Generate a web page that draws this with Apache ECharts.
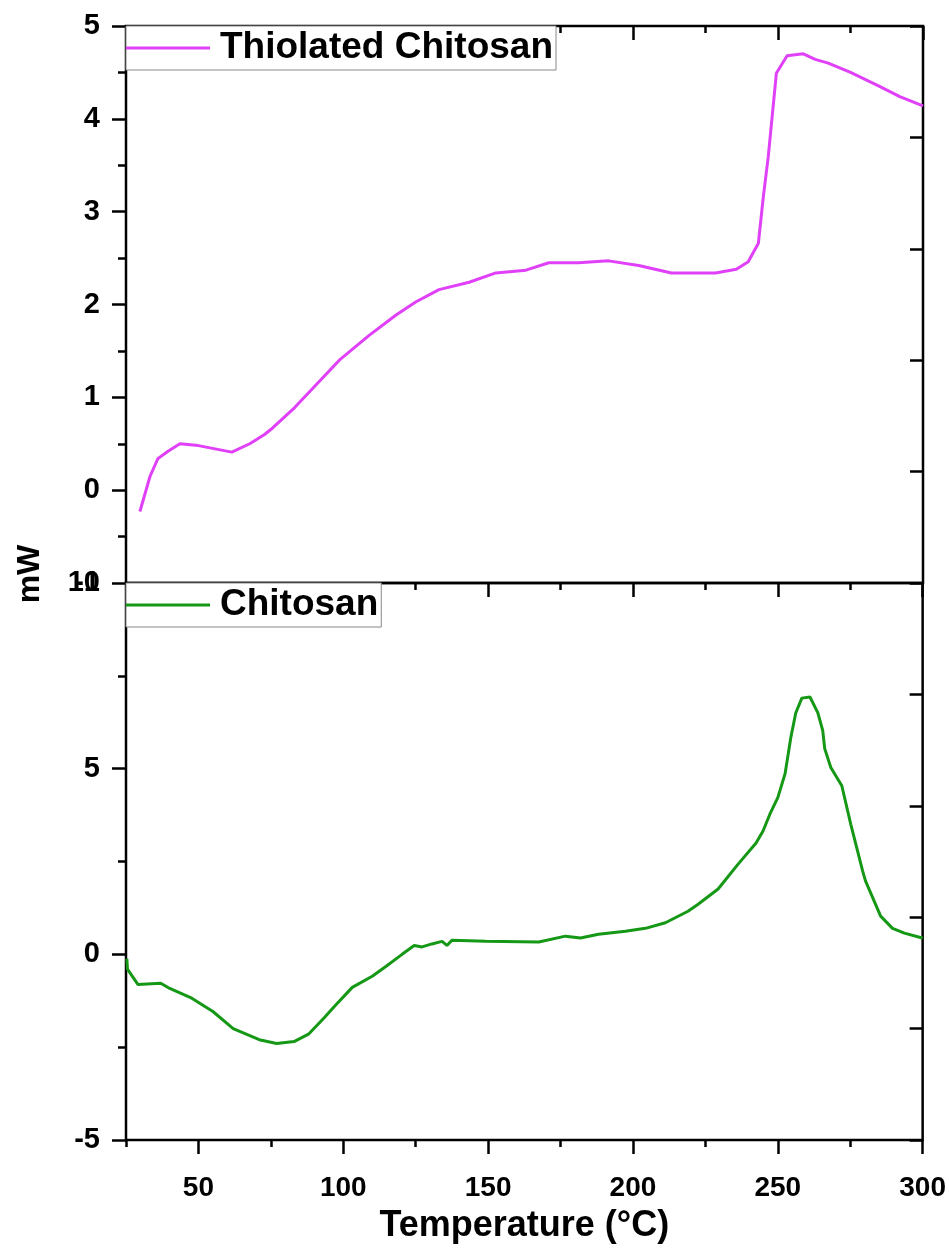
<!DOCTYPE html>
<html>
<head>
<meta charset="utf-8">
<script src="https://cdn.jsdelivr.net/npm/echarts@6/dist/echarts.min.js"></script>
<style>
  html, body { margin: 0; padding: 0; background: #fff; }
  #chart { width: 949px; height: 1257px; }
</style>
</head>
<body>
<div id="chart"></div>
<script>
// Thiolated chitosan DSC curve (top panel)
var thiolTemp = [29.8, 33.3, 36, 39.5, 43.6, 50, 61.5, 67.7, 72.8, 75.6, 83.2, 98.6, 109, 118.3, 125.1, 133, 143.4, 152.6, 163, 170.9, 181.2, 191.5, 201.9, 213.2, 228.4, 235.6, 239.7, 243.2, 244.9, 246.6, 249.4, 253.1, 258.7, 262.8, 267.3, 275, 285, 292, 300];
var thiolMW = [-0.23, 0.15, 0.34, 0.42, 0.50, 0.48, 0.41, 0.50, 0.60, 0.67, 0.89, 1.40, 1.67, 1.89, 2.03, 2.16, 2.24, 2.34, 2.37, 2.45, 2.45, 2.47, 2.42, 2.34, 2.34, 2.38, 2.46, 2.66, 3.16, 3.59, 4.49, 4.68, 4.70, 4.64, 4.60, 4.50, 4.35, 4.24, 4.14];

// Chitosan DSC curve (bottom panel)
var chitTemp = [25.3, 25.5, 29.1, 37, 40.1, 47.7, 55, 62, 71, 77, 83, 88, 93.5, 97, 103.1, 110, 114.8, 120.3, 124.5, 127.2, 130.6, 134.1, 135.8, 137.5, 149.2, 167.5, 176.7, 181.9, 188.1, 197.4, 204.3, 211.2, 219, 222.5, 229.4, 236.3, 242.5, 244.9, 247.3, 250, 252.5, 254.5, 256.2, 258.3, 261.1, 263.8, 265.5, 266.2, 268.3, 272.1, 275.2, 279.3, 280.3, 285.5, 289.6, 293.7, 298.9, 300];
var chitMW = [-0.12, -0.4, -0.81, -0.78, -0.92, -1.18, -1.54, -2.0, -2.3, -2.4, -2.35, -2.15, -1.7, -1.4, -0.89, -0.59, -0.32, 0, 0.24, 0.2, 0.28, 0.35, 0.24, 0.38, 0.35, 0.33, 0.49, 0.44, 0.54, 0.62, 0.70, 0.85, 1.16, 1.35, 1.76, 2.43, 3.0, 3.32, 3.78, 4.22, 4.86, 5.84, 6.5, 6.9, 6.93, 6.51, 6.03, 5.54, 5.03, 4.54, 3.5, 2.24, 1.97, 1.03, 0.70, 0.57, 0.46, 0.44];

var tempMin = 25, tempMax = 300;
var topRange = [-1, 5];
var bottomRange = [-5, 10];

function pairs(xs, ys) {
  return xs.map(function (x, i) { return [x, ys[i]]; });
}

var FONT = 'Arial, "Liberation Sans", sans-serif';

// x axis: major ticks (auto, every 50) or minor ticks (every 25)
function xAxis(grid, pos, kind, inside, showLabel) {
  var minor = kind === 'minor';
  var ax = {
    type: 'value', gridIndex: grid, position: pos,
    min: tempMin, max: tempMax,
    axisLine: { show: false, onZero: false },
    splitLine: { show: false },
    axisTick: { show: true, inside: inside, length: minor ? 7 : 14, lineStyle: { color: '#000', width: 2.5 } },
    axisLabel: { show: false }
  };
  if (minor) ax.interval = 25;
  if (showLabel) {
    ax.axisLabel = { show: true, showMinLabel: false, margin: 34, color: '#000', fontFamily: FONT, fontWeight: 'bold', fontSize: 28 };
    ax.name = 'Temperature (°C)';
    ax.nameLocation = 'middle';
    ax.nameGap = 68;
    ax.nameTextStyle = { color: '#000', fontFamily: FONT, fontWeight: 'bold', fontSize: 36 };
  }
  return ax;
}

function leftY(grid, range, step) {
  return {
    type: 'value', gridIndex: grid, position: 'left',
    min: range[0], max: range[1], interval: step,
    axisLine: { show: false, onZero: false },
    splitLine: { show: false },
    axisTick: { show: true, inside: false, length: 14, lineStyle: { color: '#000', width: 2.5 } },
    minorTick: { show: true, splitNumber: 2, length: 8, lineStyle: { color: '#000', width: 2.5 } },
    axisLabel: { margin: 26, color: '#000', fontFamily: FONT, fontWeight: 'bold', fontSize: 29 }
  };
}

function rightY(grid) {
  return {
    type: 'value', gridIndex: grid, position: 'right',
    min: 0, max: 5, interval: 1,
    axisLine: { show: false, onZero: false },
    splitLine: { show: false },
    axisTick: { show: true, inside: true, length: 13, lineStyle: { color: '#000', width: 2.5 } },
    axisLabel: { show: false }
  };
}

function legendBox(name, top) {
  return {
    data: [name],
    left: 126, top: top,
    orient: 'horizontal',
    icon: 'rect', itemWidth: 84, itemHeight: 3,
    backgroundColor: '#fff',
    borderColor: '#888', borderWidth: 1, borderRadius: 0,
    padding: [2, 3, 2, 0],
    selectedMode: false,
    textStyle: { color: '#000', fontFamily: FONT, fontWeight: 'bold', fontSize: 37, lineHeight: 40, padding: [0, 0, 0, 5] }
  };
}

var chart = echarts.init(document.getElementById('chart'), null, { renderer: 'canvas' });

chart.setOption({
  backgroundColor: '#fff',
  animation: false,
  grid: [
    { left: 126, top: 26, width: 797, height: 557, show: true, borderColor: '#000', borderWidth: 2.5, backgroundColor: 'transparent' },
    { left: 126, top: 583, width: 797, height: 557, show: true, borderColor: '#000', borderWidth: 2.5, backgroundColor: 'transparent' }
  ],
  xAxis: [
    xAxis(0, 'top', 'major', true, false),
    xAxis(0, 'top', 'minor', true, false),
    xAxis(1, 'top', 'major', true, false),
    xAxis(1, 'top', 'minor', true, false),
    xAxis(1, 'bottom', 'major', false, true),
    xAxis(1, 'bottom', 'minor', false, false)
  ],
  yAxis: [
    leftY(0, topRange, 1),
    rightY(0),
    leftY(1, bottomRange, 5),
    rightY(1)
  ],
  legend: [
    legendBox('Thiolated Chitosan', 26),
    legendBox('Chitosan', 583)
  ],
  graphic: [{
    type: 'text', x: 30, y: 574, rotation: Math.PI / 2,
    style: { text: 'mW', fill: '#000', font: 'bold 32px ' + FONT, textAlign: 'center', textVerticalAlign: 'middle' }
  }],
  series: [
    {
      name: 'Thiolated Chitosan', type: 'line', xAxisIndex: 0, yAxisIndex: 0,
      data: pairs(thiolTemp, thiolMW), showSymbol: false, symbol: 'none',
      color: '#E040F8', lineStyle: { width: 3, color: '#E040F8' }
    },
    {
      name: 'Chitosan', type: 'line', xAxisIndex: 4, yAxisIndex: 2,
      data: pairs(chitTemp, chitMW), showSymbol: false, symbol: 'none',
      color: '#159815', lineStyle: { width: 3, color: '#159815' }
    }
  ]
});
</script>
</body>
</html>
